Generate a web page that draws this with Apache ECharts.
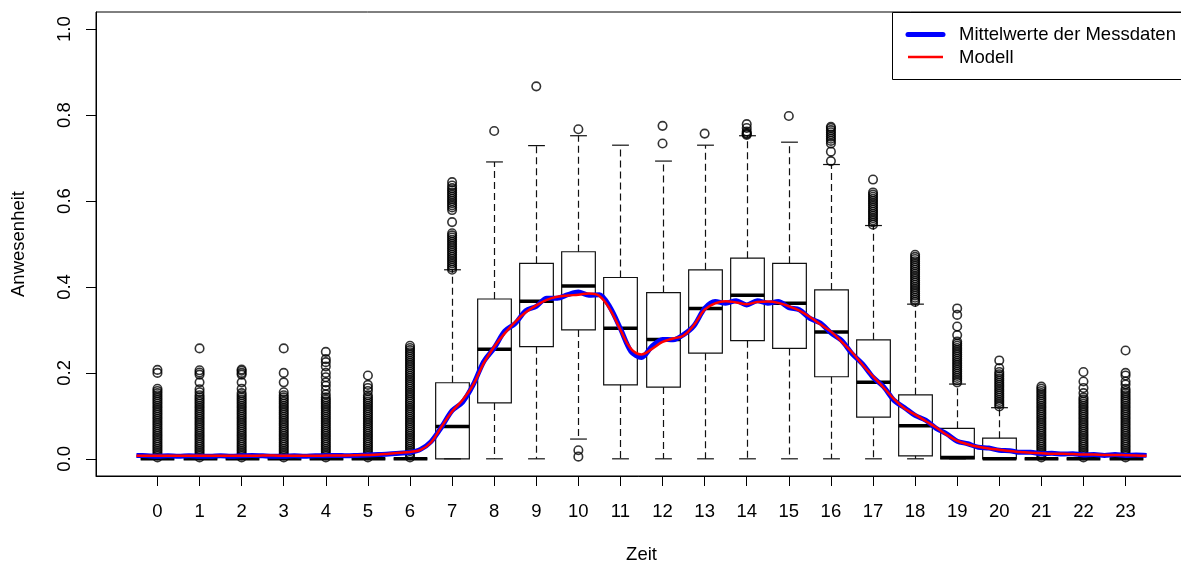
<!DOCTYPE html>
<html>
<head>
<meta charset="utf-8">
<script src="https://cdn.jsdelivr.net/npm/echarts@6/dist/echarts.min.js"></script>
<style>
html,body{margin:0;padding:0;background:#fff;}
#chart{width:1181px;height:564px;}
</style>
</head>
<body>
<div id="chart"></div>
<script>
// ---------- DATA ----------
var stunden = [0,1,2,3,4,5,6,7,8,9,10,11,12,13,14,15,16,17,18,19,20,21,22,23];
var yTicks = [0, 0.2, 0.4, 0.6, 0.8, 1.0];

// box statistics per hour: [lower whisker, Q1, median, Q3, upper whisker]
var boxStats = [
  [0,0,0,0,0],
  [0,0,0,0,0],
  [0,0,0,0,0],
  [0,0,0,0,0],
  [0,0,0,0,0],
  [0,0,0,0,0],
  [0,0,0,0,0],
  [0, 0, 0.075, 0.177, 0.44],
  [0, 0.13, 0.255, 0.372, 0.691],
  [0, 0.261, 0.367, 0.455, 0.729],
  [0.046, 0.300, 0.402, 0.482, 0.752],
  [0, 0.172, 0.304, 0.422, 0.730],
  [0, 0.167, 0.278, 0.387, 0.693],
  [0, 0.246, 0.350, 0.440, 0.730],
  [0, 0.275, 0.381, 0.467, 0.752],
  [0, 0.257, 0.362, 0.455, 0.737],
  [0, 0.191, 0.295, 0.393, 0.685],
  [0, 0.097, 0.178, 0.277, 0.543],
  [0, 0.007, 0.077, 0.149, 0.360],
  [0, 0, 0.003, 0.071, 0.174],
  [0, 0, 0, 0.048, 0.119],
  [0,0,0,0,0],
  [0,0,0,0,0],
  [0,0,0,0,0]
];

// outliers per hour
var ausreisser = [
  [0.003,0.008,0.013,0.018,0.023,0.028,0.033,0.038,0.043,0.048,0.053,0.058,0.063,0.068,0.073,0.078,0.083,0.088,0.093,0.098,0.103,0.108,0.113,0.118,0.123,0.128,0.133,0.138,0.143,0.148,0.153,0.158,0.163,0.200,0.207],
  [0.003,0.008,0.013,0.018,0.023,0.028,0.033,0.038,0.043,0.048,0.053,0.058,0.063,0.068,0.073,0.078,0.083,0.088,0.093,0.098,0.103,0.108,0.113,0.118,0.123,0.128,0.133,0.138,0.143,0.148,0.155,0.162,0.178,0.196,0.201,0.206,0.257],
  [0.003,0.008,0.013,0.018,0.023,0.028,0.033,0.038,0.043,0.048,0.053,0.058,0.063,0.068,0.073,0.078,0.083,0.088,0.093,0.098,0.103,0.108,0.113,0.118,0.123,0.128,0.133,0.138,0.143,0.148,0.153,0.163,0.178,0.196,0.200,0.205,0.208],
  [0.003,0.008,0.013,0.018,0.023,0.028,0.033,0.038,0.043,0.048,0.053,0.058,0.063,0.068,0.073,0.078,0.083,0.088,0.093,0.098,0.103,0.108,0.113,0.118,0.123,0.128,0.133,0.138,0.143,0.148,0.155,0.178,0.200,0.257],
  [0.003,0.008,0.013,0.018,0.023,0.028,0.033,0.038,0.043,0.048,0.053,0.058,0.063,0.068,0.073,0.078,0.083,0.088,0.093,0.098,0.103,0.108,0.113,0.118,0.123,0.128,0.133,0.138,0.143,0.150,0.160,0.170,0.178,0.190,0.200,0.215,0.225,0.232,0.249],
  [0.003,0.008,0.013,0.018,0.023,0.028,0.033,0.038,0.043,0.048,0.053,0.058,0.063,0.068,0.073,0.078,0.083,0.088,0.093,0.098,0.103,0.108,0.113,0.118,0.123,0.128,0.133,0.138,0.143,0.148,0.158,0.165,0.172,0.194],
  [0.003,0.008,0.013,0.018,0.023,0.028,0.033,0.038,0.043,0.048,0.053,0.058,0.063,0.068,0.073,0.078,0.083,0.088,0.093,0.098,0.103,0.108,0.113,0.118,0.123,0.128,0.133,0.138,0.143,0.148,0.153,0.158,0.163,0.168,0.173,0.178,0.183,0.188,0.193,0.198,0.203,0.208,0.213,0.218,0.223,0.228,0.233,0.238,0.243,0.248,0.253,0.258,0.263],
  [0.440,0.445,0.450,0.455,0.460,0.465,0.470,0.475,0.480,0.485,0.490,0.495,0.500,0.505,0.510,0.515,0.520,0.525,0.551,0.579,0.585,0.590,0.595,0.600,0.605,0.610,0.615,0.620,0.625,0.630,0.636,0.644],
  [0.763],
  [0.867],
  [0.767,0.020,0.005],
  [],
  [0.775,0.734],
  [0.757],
  [0.779,0.770,0.762,0.758,0.756,0.754],
  [0.798],
  [0.693,0.715,0.734,0.740,0.745,0.750,0.755,0.760,0.765,0.770,0.773],
  [0.545,0.550,0.555,0.560,0.565,0.570,0.575,0.580,0.585,0.590,0.595,0.600,0.605,0.610,0.615,0.620,0.650],
  [0.365,0.370,0.375,0.380,0.385,0.390,0.395,0.400,0.405,0.410,0.415,0.420,0.425,0.430,0.435,0.440,0.445,0.450,0.455,0.460,0.465,0.470,0.475],
  [0.178,0.183,0.188,0.193,0.198,0.203,0.208,0.213,0.218,0.223,0.228,0.233,0.238,0.243,0.248,0.253,0.258,0.263,0.268,0.273,0.288,0.308,0.335,0.350],
  [0.122,0.127,0.132,0.137,0.142,0.147,0.152,0.157,0.162,0.167,0.172,0.177,0.182,0.187,0.192,0.197,0.202,0.211,0.229],
  [0.003,0.008,0.013,0.018,0.023,0.028,0.033,0.038,0.043,0.048,0.053,0.058,0.063,0.068,0.073,0.078,0.083,0.088,0.093,0.098,0.103,0.108,0.113,0.118,0.123,0.128,0.133,0.138,0.143,0.148,0.153,0.158,0.163,0.168],
  [0.003,0.008,0.013,0.018,0.023,0.028,0.033,0.038,0.043,0.048,0.053,0.058,0.063,0.068,0.073,0.078,0.083,0.088,0.093,0.098,0.103,0.108,0.113,0.118,0.123,0.128,0.133,0.138,0.143,0.153,0.165,0.180,0.202],
  [0.003,0.008,0.013,0.018,0.023,0.028,0.033,0.038,0.043,0.048,0.053,0.058,0.063,0.068,0.073,0.078,0.083,0.088,0.093,0.098,0.103,0.108,0.113,0.118,0.123,0.128,0.133,0.138,0.143,0.148,0.153,0.158,0.163,0.173,0.180,0.194,0.200,0.252]
];

// time grid (hours) for the two curves
var zeitGitter = [-0.5,-0.25,0,0.25,0.5,0.75,1,1.25,1.5,1.75,2,2.25,2.5,2.75,3,3.25,3.5,3.75,4,4.25,4.5,4.75,5,5.25,5.5,5.75,6,6.25,6.5,6.75,7,7.25,7.5,7.75,8,8.25,8.5,8.75,9,9.25,9.5,9.75,10,10.25,10.5,10.75,11,11.25,11.5,11.75,12,12.25,12.5,12.75,13,13.25,13.5,13.75,14,14.25,14.5,14.75,15,15.25,15.5,15.75,16,16.25,16.5,16.75,17,17.25,17.5,17.75,18,18.25,18.5,18.75,19,19.25,19.5,19.75,20,20.25,20.5,20.75,21,21.25,21.5,21.75,22,22.25,22.5,22.75,23,23.25,23.5];

var mittelwerte = [0.008,0.007,0.006,0.007,0.006,0.007,0.006,0.006,0.007,0.006,0.007,0.008,0.007,0.006,0.006,0.007,0.006,0.007,0.007,0.008,0.007,0.008,0.009,0.010,0.011,0.013,0.015,0.022,0.040,0.074,0.112,0.132,0.172,0.226,0.258,0.297,0.315,0.345,0.355,0.374,0.374,0.382,0.388,0.381,0.382,0.353,0.303,0.250,0.236,0.262,0.278,0.277,0.289,0.310,0.350,0.366,0.362,0.368,0.358,0.368,0.362,0.366,0.352,0.347,0.327,0.316,0.293,0.276,0.245,0.221,0.190,0.168,0.136,0.119,0.101,0.090,0.071,0.058,0.041,0.035,0.027,0.025,0.020,0.019,0.015,0.015,0.012,0.013,0.011,0.012,0.009,0.010,0.008,0.010,0.008,0.009,0.008];

var modell = [0.007,0.007,0.007,0.007,0.007,0.007,0.007,0.007,0.007,0.007,0.007,0.007,0.0075,0.0075,0.007,0.007,0.007,0.007,0.0075,0.008,0.008,0.0085,0.009,0.010,0.012,0.014,0.016,0.021,0.038,0.075,0.110,0.137,0.172,0.222,0.261,0.292,0.319,0.341,0.357,0.370,0.377,0.380,0.382,0.385,0.379,0.348,0.300,0.256,0.243,0.256,0.272,0.280,0.287,0.312,0.347,0.362,0.367,0.364,0.360,0.365,0.366,0.363,0.355,0.345,0.330,0.313,0.296,0.273,0.248,0.219,0.192,0.166,0.139,0.117,0.103,0.088,0.073,0.056,0.042,0.034,0.028,0.024,0.021,0.018,0.016,0.014,0.013,0.012,0.012,0.011,0.010,0.010,0.009,0.009,0.0085,0.008,0.007];

// ---------- BUILD ----------
var FONT = '"Liberation Sans", Arial, Helvetica, sans-serif';
var boxData = stunden.map(function(h, i){ return [h].concat(boxStats[i]); });
var outlierData = [];
stunden.forEach(function(h, i){ ausreisser[i].forEach(function(v){ outlierData.push([h, v]); }); });
var meanData = zeitGitter.map(function(t, i){ return [t, mittelwerte[i]]; });
var modelData = zeitGitter.map(function(t, i){ return [t, modell[i]]; });

function renderBox(params, api){
  var x = api.value(0);
  var lo = api.value(1), q1 = api.value(2), med = api.value(3), q3 = api.value(4), hi = api.value(5);
  var half = api.size([0.4, 0])[0];
  var cap = half / 2;
  var pLo = api.coord([x, lo]), pQ1 = api.coord([x, q1]), pMed = api.coord([x, med]),
      pQ3 = api.coord([x, q3]), pHi = api.coord([x, hi]);
  var cx = Math.round(pMed[0]) + 0.5;
  var solid = {stroke:'#111', lineWidth:1.2, fill:null};
  var dashed = {stroke:'#111', lineWidth:1.2, lineDash:[7,4], fill:null};
  var ch = [];
  if (hi > q3) ch.push({type:'line', shape:{x1:cx,y1:pQ3[1],x2:cx,y2:pHi[1]}, style:dashed});
  if (q1 > lo) ch.push({type:'line', shape:{x1:cx,y1:pQ1[1],x2:cx,y2:pLo[1]}, style:dashed});
  ch.push({type:'line', shape:{x1:cx-cap,y1:pHi[1],x2:cx+cap,y2:pHi[1]}, style:solid});
  ch.push({type:'line', shape:{x1:cx-cap,y1:pLo[1],x2:cx+cap,y2:pLo[1]}, style:solid});
  ch.push({type:'rect', shape:{x:cx-half, y:pQ3[1], width:2*half, height:pQ1[1]-pQ3[1]}, style:{stroke:'#111', lineWidth:1.2, fill:'rgba(0,0,0,0)'}});
  ch.push({type:'line', shape:{x1:cx-half,y1:pMed[1],x2:cx+half,y2:pMed[1]}, style:{stroke:'#000', lineWidth:3.5}});
  return {type:'group', children:ch};
}

var chart = echarts.init(document.getElementById('chart'), null, {renderer:'canvas'});
chart.setOption({
  animation:false,
  backgroundColor:'#fff',
  textStyle:{fontFamily:FONT},
  grid:{left:96, top:12, width:1091, height:464, containLabel:false, outerBoundsMode:'none',
    show:true, borderColor:'#000', borderWidth:1, backgroundColor:'rgba(0,0,0,0)'},
  xAxis:{
    type:'value', min:-1.46, max:24.46,
    name:'Zeit', nameLocation:'middle', nameGap:69,
    nameTextStyle:{fontSize:18.5, color:'#000', fontFamily:FONT},
    axisLine:{show:true, onZero:false, lineStyle:{color:'#000', width:1}},
    axisTick:{show:true, length:10, lineStyle:{color:'#000'}, customValues:stunden},
    axisLabel:{fontSize:18.5, color:'#000', margin:26, fontFamily:FONT, customValues:stunden},
    splitLine:{show:false}
  },
  yAxis:{
    type:'value', min:-0.04, max:1.04,
    name:'Anwesenheit', nameLocation:'middle', nameGap:68, nameRotate:90,
    nameTextStyle:{fontSize:18.5, color:'#000', fontFamily:FONT},
    axisLine:{show:true, onZero:false, lineStyle:{color:'#000', width:1}},
    axisTick:{show:true, length:10, lineStyle:{color:'#000'}, customValues:yTicks},
    axisLabel:{fontSize:18.5, color:'#000', margin:22, rotate:90, fontFamily:FONT, customValues:yTicks,
      formatter:function(v){ return v.toFixed(1); }},
    splitLine:{show:false}
  },
  series:[
    {type:'custom', name:'Boxplot', renderItem:renderBox, data:boxData, encode:{x:0, y:[1,2,3,4,5]}, z:2},
    {type:'scatter', name:'Ausreißer', data:outlierData, symbol:'circle', symbolSize:8.5,
      itemStyle:{color:'rgba(0,0,0,0)', borderColor:'#000', borderWidth:1.6}, z:3},
    {type:'line', name:'Mittelwerte der Messdaten', data:meanData, showSymbol:false, smooth:0.3,
      lineStyle:{color:'#0000ff', width:5}, itemStyle:{color:'#0000ff'}, z:4},
    {type:'line', name:'Modell', data:modelData, showSymbol:false, smooth:0.4,
      lineStyle:{color:'#ff0000', width:2.5}, itemStyle:{color:'#ff0000'}, z:5}
  ],
  graphic:[
    {type:'group', z:100, children:[
      {type:'rect', shape:{x:892.5, y:12.5, width:320, height:67}, style:{fill:'#fff', stroke:'#000', lineWidth:1}},
      {type:'line', shape:{x1:908, y1:34.5, x2:943, y2:34.5}, style:{stroke:'#0000ff', lineWidth:5, lineCap:'round'}},
      {type:'line', shape:{x1:908, y1:57, x2:943, y2:57}, style:{stroke:'#ff0000', lineWidth:2.5}},
      {type:'text', x:959, y:35, style:{text:'Mittelwerte der Messdaten', font:'18.5px ' + FONT, fill:'#000', textVerticalAlign:'middle', verticalAlign:'middle'}},
      {type:'text', x:959, y:58, style:{text:'Modell', font:'18.5px ' + FONT, fill:'#000', textVerticalAlign:'middle', verticalAlign:'middle'}}
    ]}
  ]
});
</script>
</body>
</html>
